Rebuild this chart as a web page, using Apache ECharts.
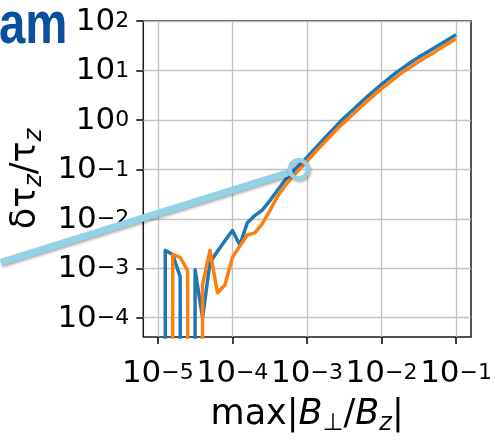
<!DOCTYPE html>
<html>
<head>
<meta charset="utf-8">
<script src="https://cdn.jsdelivr.net/npm/echarts@6/dist/echarts.min.js"></script>
<style>
  html, body { margin: 0; padding: 0; background: #fff; }
  #chart { width: 495px; height: 441px; }
</style>
</head>
<body>
<div id="chart"></div>
<script>
// Sample positions along max|B_perp/B_z|, given as powers of ten (0.1-decade steps)
const xExponents = [
  -5.0, -4.9, -4.8, -4.7, -4.6, -4.5, -4.4, -4.3, -4.2, -4.1,
  -4.0, -3.9, -3.8, -3.7, -3.6, -3.5, -3.4, -3.3, -3.2, -3.1,
  -3.0, -2.9, -2.8, -2.7, -2.6, -2.5, -2.4, -2.3, -2.2, -2.1,
  -2.0, -1.9, -1.8, -1.7, -1.6, -1.5, -1.4, -1.3, -1.2, -1.1, -1.0
];

// Relative error δτz/τz of the two runs (0 = no positive value at that sample)
const blueValues = [
  0, 2.3e-3, 1.9e-3, 6.7e-4, 0, 9.3e-4, 1.0e-4, 1.3e-3, 2.2e-3, 3.6e-3,
  5.8e-3, 2.95e-3, 8.3e-3, 1.16e-2, 1.5e-2, 2.3e-2, 3.7e-2, 5.9e-2, 8.7e-2, 0.123,
  0.174, 0.257, 0.372, 0.537, 0.776, 1.10, 1.51, 2.09, 2.88, 3.89,
  5.25, 6.92, 9.12, 11.7, 14.8, 18.6, 22.9, 28.2, 34.7, 42.7, 53.0
];
const orangeValues = [
  0, 0, 1.9e-3, 1.66e-3, 8.9e-4, 0, 4.7e-4, 2.3e-3, 3.2e-4, 4.6e-4,
  1.66e-3, 2.8e-3, 4.7e-3, 5.2e-3, 7.9e-3, 1.45e-2, 2.75e-2, 4.5e-2, 6.9e-2, 0.1,
  0.145, 0.214, 0.309, 0.447, 0.646, 0.891, 1.23, 1.70, 2.34, 3.16,
  4.27, 5.62, 7.41, 9.55, 12.0, 15.1, 18.6, 22.9, 28.8, 35.5, 43.7
];

// Decade ticks on each axis
const xTickValues = [1e-5, 1e-4, 1e-3, 1e-2, 1e-1];
const yTickValues = [1e-4, 1e-3, 1e-2, 1e-1, 1, 10, 100];

// Highlighted point and the far end of its pointer line, in data coordinates
const calloutPoint = [7.8e-4, 0.1];
const calloutTail = [7.85e-8, 1.32e-3];

// Non-positive samples are pushed far below the axis, the way a log plot clips them
const LOG_FLOOR = 1e-300;
function toPairs(values) {
  return xExponents.map((e, i) => [Math.pow(10, e), values[i] > 0 ? values[i] : LOG_FLOOR]);
}

const FONT = 'DejaVu Sans';
const INK = '#000';

// "10" with a raised exponent; the empty first token only sets the line box height
function powerLabel(v) {
  const e = Math.round(Math.log10(v));
  return '{h|\u200b}{b|10}{s|' + (e < 0 ? '\u2212' : '') + Math.abs(e) + '}';
}
const tickRich = {
  h: { fontFamily: FONT, fontSize: 10, lineHeight: 27, width: 0 },
  b: { fontFamily: FONT, fontSize: 31, color: INK, lineHeight: 17, verticalAlign: 'bottom' },
  s: { fontFamily: FONT, fontSize: 22, color: INK, lineHeight: 17, verticalAlign: 'top' }
};

const chart = echarts.init(document.getElementById('chart'), null, { renderer: 'canvas' });

chart.setOption({
  animation: false,
  backgroundColor: '#fff',
  grid: {
    left: 143, right: 23, top: 21, bottom: 94,
    show: true, borderColor: '#1a1a1a', borderWidth: 1.5, backgroundColor: 'transparent'
  },
  xAxis: {
    type: 'log', logBase: 10,
    min: Math.pow(10, -5.195), max: Math.pow(10, -0.8),
    axisLine: { show: false },
    axisTick: { show: true, length: 7, customValues: xTickValues, lineStyle: { color: INK, width: 1.5 } },
    axisLabel: {
      customValues: xTickValues, interval: 0, margin: 25,
      formatter: powerLabel, rich: tickRich
    },
    splitLine: { show: true, lineStyle: { color: '#c2c2c2', width: 1.3 } },
    name: '{r|max|}{i|B}{sub|\u22a5}{r|/}{i|B}{subi|z}{r||}',
    nameLocation: 'middle', nameGap: 57,
    nameTextStyle: {
      rich: {
        r: { fontFamily: FONT, fontSize: 35, color: INK, lineHeight: 42 },
        i: { fontFamily: FONT, fontSize: 35, fontStyle: 'italic', color: INK, lineHeight: 42 },
        sub: { fontFamily: FONT, fontSize: 24, color: INK, lineHeight: 24, verticalAlign: 'bottom' },
        subi: { fontFamily: FONT, fontSize: 24, fontStyle: 'italic', color: INK, lineHeight: 24, verticalAlign: 'bottom' }
      }
    }
  },
  yAxis: {
    type: 'log', logBase: 10,
    min: Math.pow(10, -4.39), max: 100,
    axisLine: { show: false },
    axisTick: { show: true, length: 7, customValues: yTickValues, lineStyle: { color: INK, width: 1.5 } },
    axisLabel: {
      customValues: yTickValues, interval: 0, margin: 14, padding: [6, 0, 0, 0],
      formatter: powerLabel, rich: tickRich
    },
    splitLine: { show: true, lineStyle: { color: '#c2c2c2', width: 1.3 } },
    name: '{n|\u03b4\u03c4}{s|z}{n|/\u03c4}{s|z}',
    nameLocation: 'middle', nameRotate: 90, nameGap: 95,
    nameTextStyle: {
      rich: {
        n: { fontFamily: FONT, fontSize: 35, color: INK, lineHeight: 42 },
        s: { fontFamily: FONT, fontSize: 24, fontStyle: 'italic', color: INK, lineHeight: 24, verticalAlign: 'bottom' }
      }
    }
  },
  series: [
    {
      type: 'line', data: toPairs(blueValues), showSymbol: false, clip: true,
      lineStyle: { color: '#1f77b4', width: 3.5, join: 'round' }, z: 3
    },
    {
      type: 'line', data: toPairs(orangeValues), showSymbol: false, clip: true,
      lineStyle: { color: '#ff7f0e', width: 3.5, join: 'round' }, z: 4
    }
  ]
});

// Callout: a ring around the highlighted point with a pointer line running off to the left
const ringR = 9;
const center = chart.convertToPixel({ xAxisIndex: 0, yAxisIndex: 0 }, calloutPoint);
const tail = chart.convertToPixel({ xAxisIndex: 0, yAxisIndex: 0 }, calloutTail);
const dx = center[0] - tail[0], dy = center[1] - tail[1];
const len = Math.sqrt(dx * dx + dy * dy);
const head = [center[0] - dx / len * ringR, center[1] - dy / len * ringR];
const calloutColor = '#93d1e7';
const calloutShadow = { shadowBlur: 3, shadowColor: 'rgba(0,0,0,0.35)', shadowOffsetX: 1, shadowOffsetY: 1.5 };

chart.setOption({
  graphic: [
    {
      type: 'text', x: -1, y: 26, scaleX: 0.79, z: 100,
      style: { text: 'am', font: 'bold 60px "Liberation Sans"', fill: '#0b4f9f', verticalAlign: 'middle', textAlign: 'left' }
    },
    {
      type: 'line', z: 100,
      shape: { x1: tail[0], y1: tail[1], x2: head[0], y2: head[1] },
      style: Object.assign({ stroke: calloutColor, lineWidth: 7, lineCap: 'butt' }, calloutShadow)
    },
    {
      type: 'circle', z: 101,
      shape: { cx: center[0], cy: center[1], r: ringR },
      style: Object.assign({ fill: null, stroke: calloutColor, lineWidth: 4.5 }, calloutShadow)
    }
  ]
});
</script>
</body>
</html>
